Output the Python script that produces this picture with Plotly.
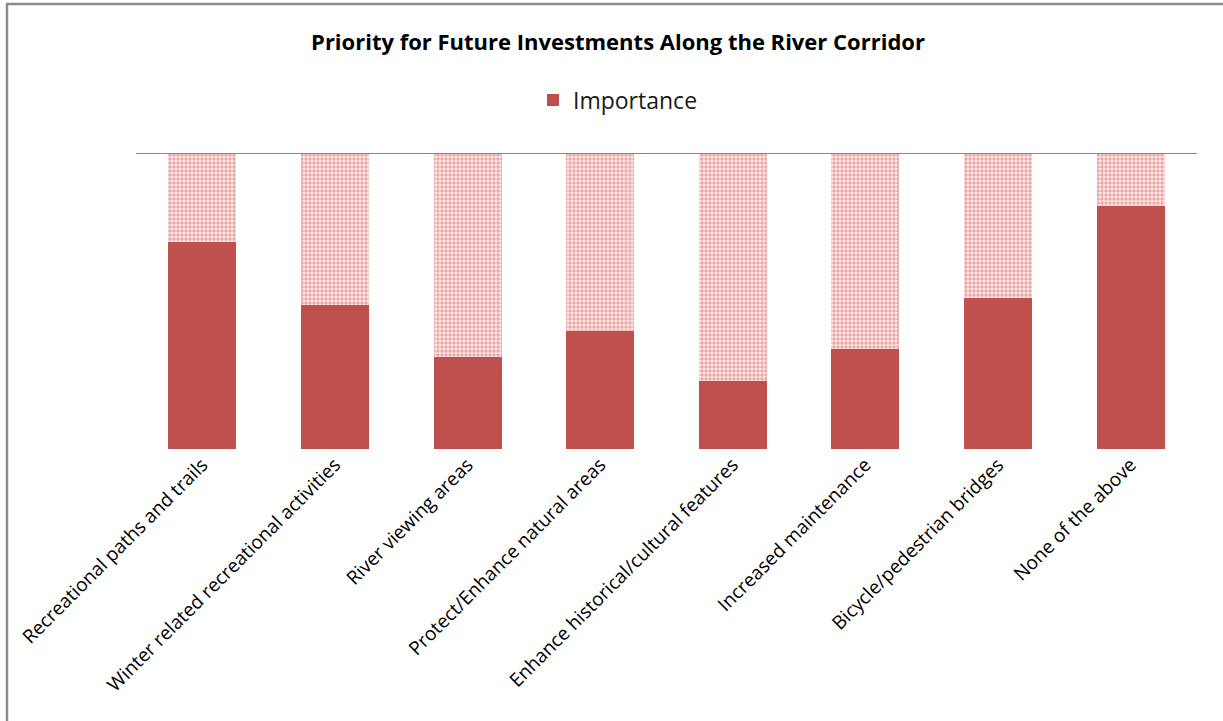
import plotly.graph_objects as go

categories = [
    "Recreational paths and trails",
    "Winter related recreational activities",
    "River viewing areas",
    "Protect/Enhance natural areas",
    "Enhance historical/cultural features",
    "Increased maintenance",
    "Bicycle/pedestrian bridges",
    "None of the above",
]
importance = [0.70, 0.486, 0.311, 0.399, 0.230, 0.338, 0.510, 0.821]
remainder = [round(1 - v, 3) for v in importance]

W, H = 1223, 721
L, R, T, B = 136, 26, 153, 272
RED = "#C0504D"
FONT = "Open Sans"

fig = go.Figure()
fig.add_trace(go.Bar(
    x=categories, y=importance, name="Importance",
    marker=dict(color=RED, line=dict(width=0)),
))
fig.add_trace(go.Bar(
    x=categories, y=remainder, name="Remainder", showlegend=False,
    marker=dict(
        color="white", line=dict(width=0),
        pattern=dict(shape=".", fgcolor="#dc6464", bgcolor="#fbe9e9",
                     size=4, solidity=0.55, fillmode="overlay"),
    ),
))

plot_w = W - L - R
plot_h = H - T - B

fig.update_layout(
    width=W, height=H,
    margin=dict(l=L, r=R, t=T, b=B, autoexpand=False),
    barmode="stack", bargap=0.487,
    paper_bgcolor="white", plot_bgcolor="white",
    font=dict(family=FONT, color="#000000"),
    title=dict(
        text="<b>Priority for Future Investments Along the River Corridor</b>",
        x=618 / W, y=1 - 42 / H, xref="container", yref="container",
        xanchor="center", yanchor="middle",
        font=dict(family=FONT, size=22, color="#000000"),
    ),
    legend=dict(
        orientation="h", xref="container", yref="container",
        x=533 / W, y=1 - 100 / H, xanchor="left", yanchor="middle",
        font=dict(family=FONT, size=23, color="#1a1a1a"),
        itemwidth=30, bgcolor="rgba(0,0,0,0)",
    ),
    xaxis=dict(
        tickangle=-45, showgrid=False, showline=False, ticks="",
        tickfont=dict(family=FONT, size=19, color="#000000"),
        fixedrange=True,
    ),
    yaxis=dict(
        range=[0, 1], showgrid=False, showticklabels=False, showline=False,
        zeroline=False, ticks="", fixedrange=True,
    ),
    showlegend=True,
)

# grey rule along the top of the plot area
fig.add_shape(type="line", xref="paper", yref="y", x0=0, x1=1, y0=1, y1=1,
              line=dict(color="#868686", width=2))

# outer frame of the chart
fig.add_shape(type="rect", xref="paper", yref="paper",
              x0=(7 - L) / plot_w, x1=2.0,
              y0=-2.0, y1=1 + (T - 4) / plot_h,
              line=dict(color="#8c8c8c", width=2.5), layer="above")

fig.write_html("out.html")
